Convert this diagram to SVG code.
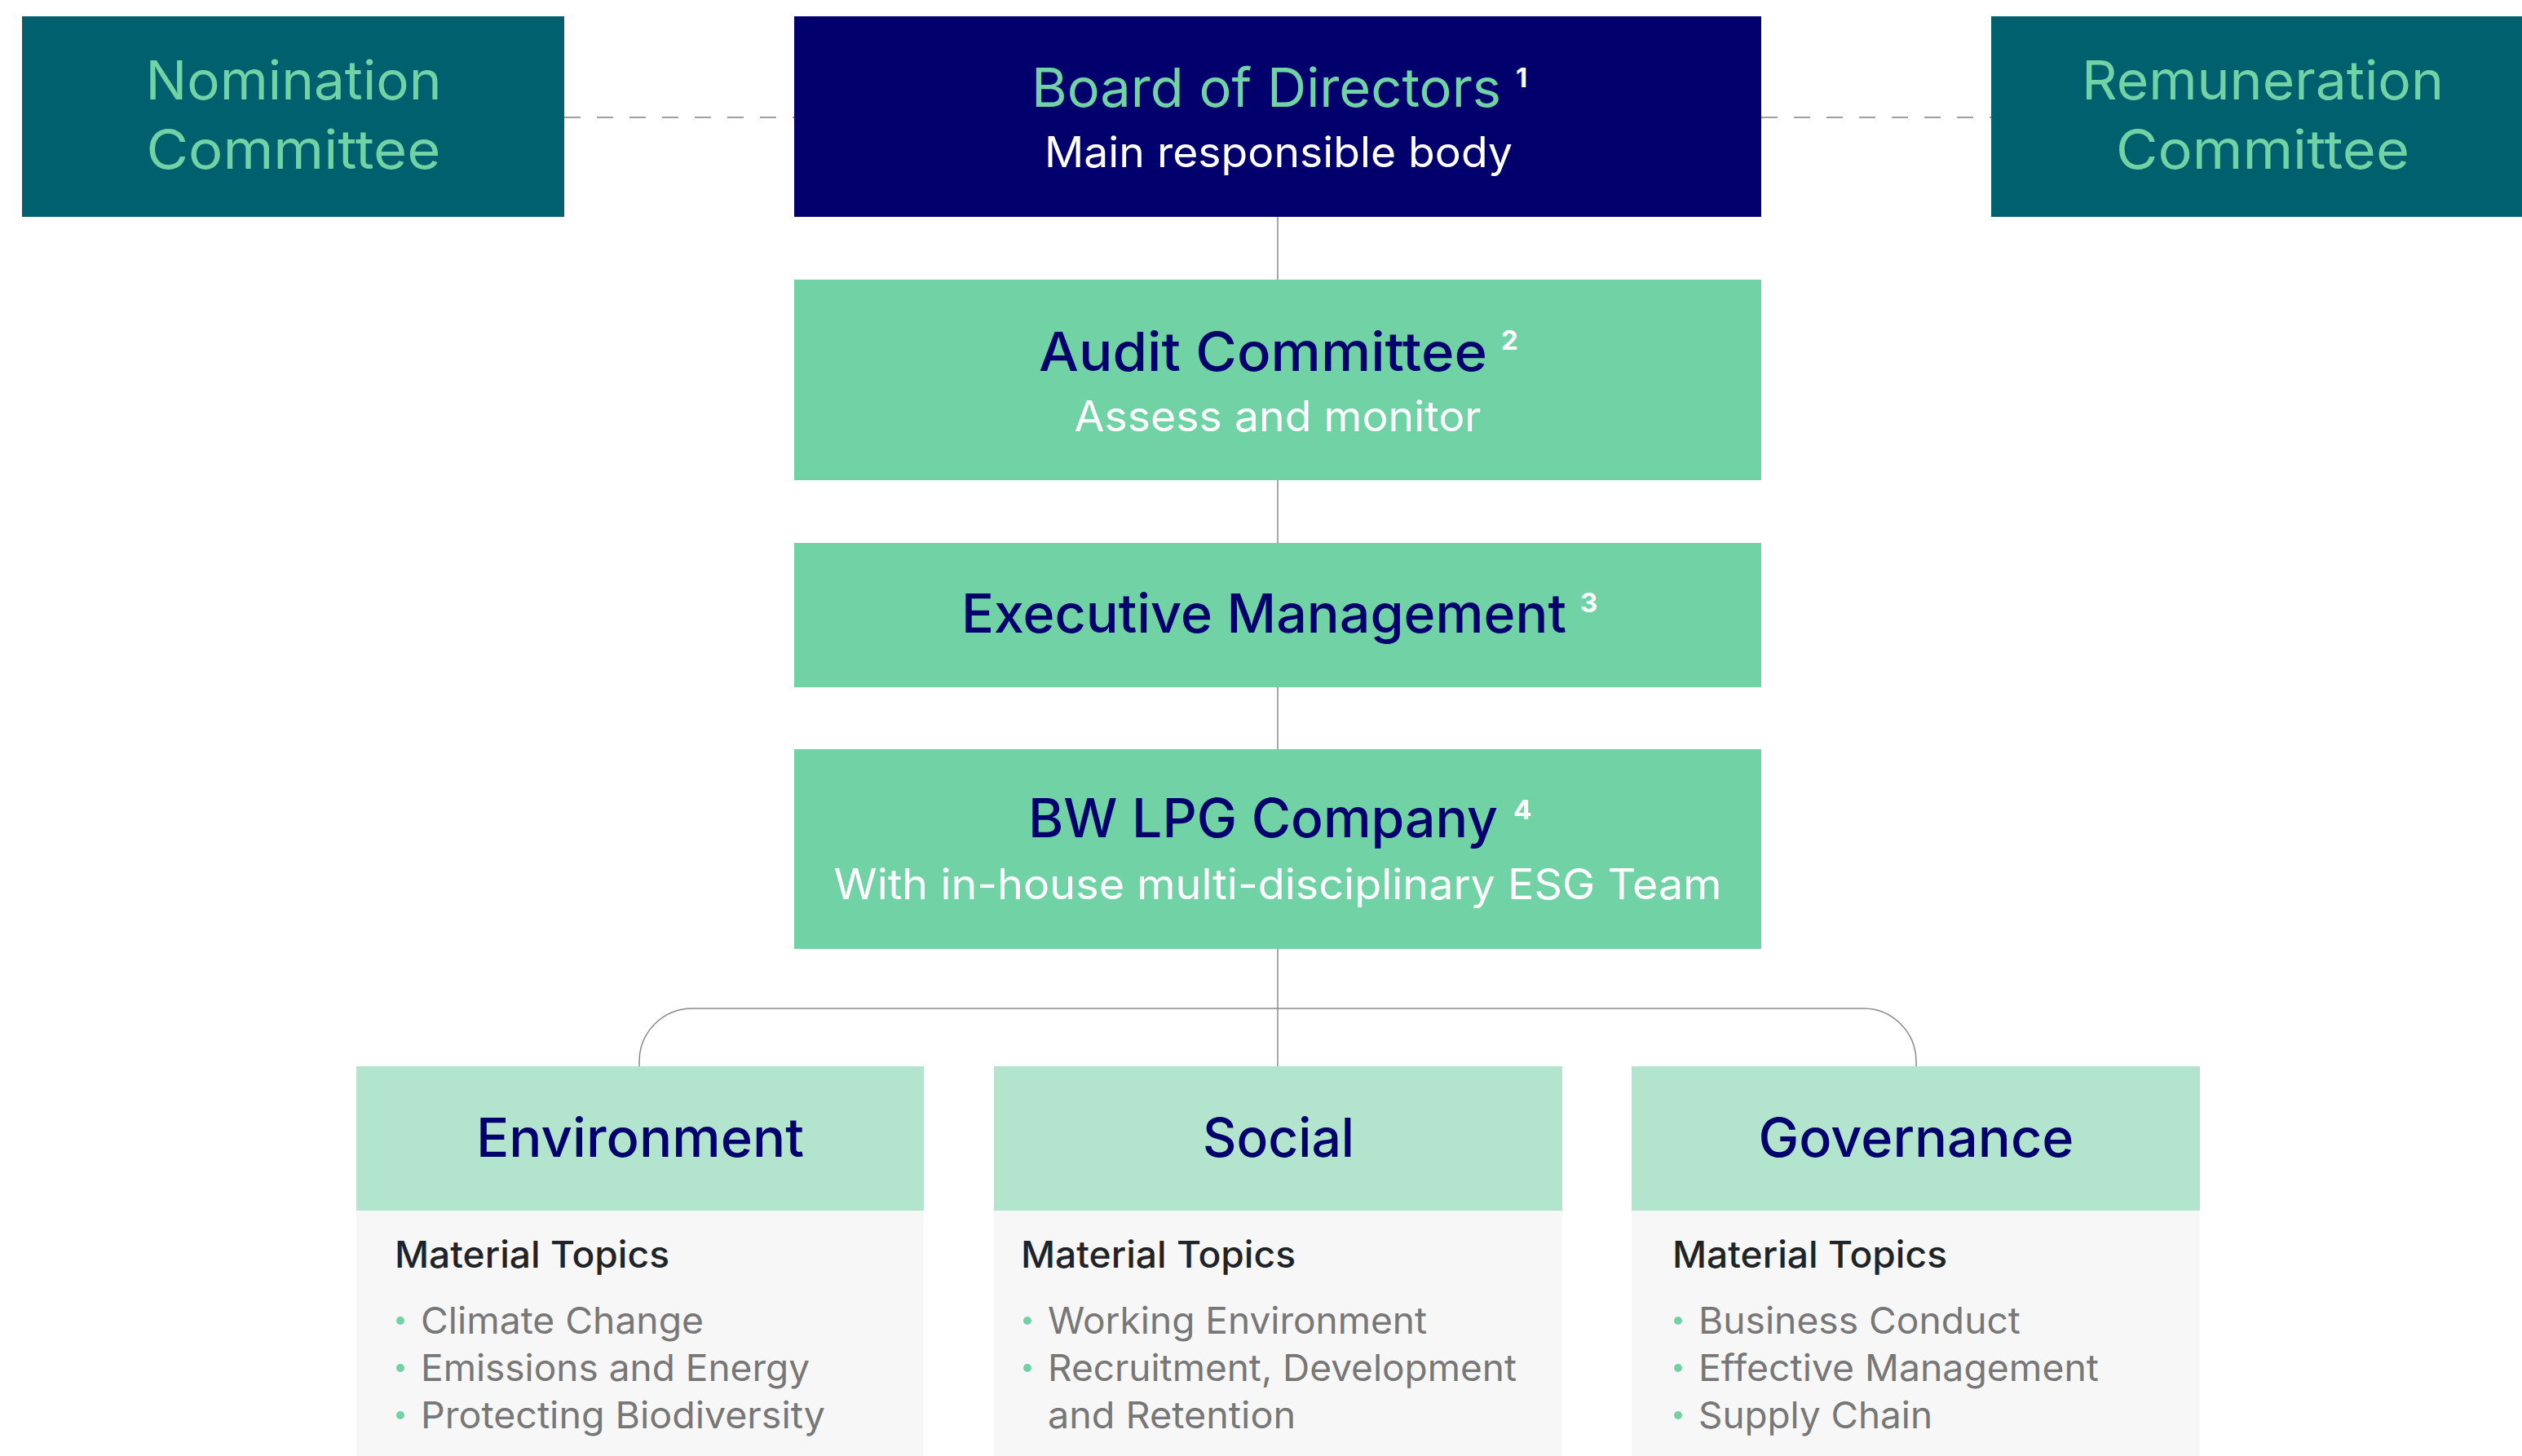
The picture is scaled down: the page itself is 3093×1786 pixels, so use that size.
<svg xmlns="http://www.w3.org/2000/svg" width="3093" height="1786" viewBox="0 0 3093 1786">
<style>
text{font-family:Inter,Roboto,"Liberation Sans",sans-serif;}
.side{fill:#00606E;}
.board{fill:#02006C;}
.mid{fill:#71D3A5;}
.head{fill:#B3E4CD;}
.panel{fill:#F7F7F7;}
.gt{fill:#71D3A5;font-size:66px;text-anchor:middle;}
.nt{fill:#02006C;font-size:66px;font-weight:500;text-anchor:middle;}
.wt{fill:#FFFFFF;font-size:52px;text-anchor:middle;}
.sup{fill:#FFFFFF;font-size:33px;font-weight:700;}
.mt{fill:#1F2428;font-size:45px;font-weight:500;}
.it{fill:#777777;font-size:45px;}
.dot{fill:#71D3A5;}
.conn{fill:none;stroke:#8A8A8A;stroke-width:1.5;}
.dash{fill:none;stroke:#A0A0A0;stroke-width:2;stroke-dasharray:20 20;}
</style>
<rect width="3093" height="1786" fill="#FFFFFF"/>
<g id="connectors">
<line class="dash" x1="692" y1="144" x2="974" y2="144"/>
<line class="dash" x1="2160" y1="144" x2="2442" y2="144"/>
<line class="conn" x1="1567" y1="266" x2="1567" y2="343"/>
<line class="conn" x1="1567" y1="589" x2="1567" y2="666"/>
<line class="conn" x1="1567" y1="843" x2="1567" y2="919"/>
<line class="conn" x1="1567" y1="1164" x2="1567" y2="1308"/>
<path class="conn" d="M 784 1308 V 1302 A 65 65 0 0 1 849 1237 H 2285 A 65 65 0 0 1 2350 1302 V 1308"/>
</g>
<g id="nomination">
<rect class="side" x="27" y="20" width="665" height="246"/>
<text class="gt" x="360" y="122" textLength="363" lengthAdjust="spacingAndGlyphs">Nomination</text>
<text class="gt" x="360" y="207" textLength="361" lengthAdjust="spacingAndGlyphs">Committee</text>
</g>
<g id="board">
<rect class="board" x="974" y="20" width="1186" height="246"/>
<text class="gt" x="1553" y="131" textLength="576" lengthAdjust="spacingAndGlyphs">Board of Directors</text>
<text class="sup" x="1859" y="107">1</text>
<text class="wt" x="1568" y="205" textLength="574" lengthAdjust="spacingAndGlyphs">Main responsible body</text>
</g>
<g id="remuneration">
<rect class="side" x="2442" y="20" width="651" height="246"/>
<text class="gt" x="2775" y="122" textLength="444" lengthAdjust="spacingAndGlyphs">Remuneration</text>
<text class="gt" x="2775" y="207" textLength="360" lengthAdjust="spacingAndGlyphs">Committee</text>
</g>
<g id="audit">
<rect class="mid" x="974" y="343" width="1186" height="246"/>
<text class="nt" x="1549" y="455" textLength="550" lengthAdjust="spacingAndGlyphs">Audit Committee</text>
<text class="sup" x="1841" y="429">2</text>
<text class="wt" x="1567" y="529" textLength="499" lengthAdjust="spacingAndGlyphs">Assess and monitor</text>
</g>
<g id="executive">
<rect class="mid" x="974" y="666" width="1186" height="177"/>
<text class="nt" x="1550" y="776" textLength="742" lengthAdjust="spacingAndGlyphs">Executive Management</text>
<text class="sup" x="1938" y="751">3</text>
</g>
<g id="company">
<rect class="mid" x="974" y="919" width="1186" height="245"/>
<text class="nt" x="1549" y="1027" textLength="576" lengthAdjust="spacingAndGlyphs">BW LPG Company</text>
<text class="sup" x="1856" y="1005">4</text>
<text class="wt" x="1567" y="1103" textLength="1089" lengthAdjust="spacingAndGlyphs">With in-house multi-disciplinary ESG Team</text>
</g>
<g id="environment">
<rect class="head" x="437" y="1308" width="696" height="177"/>
<rect class="panel" x="437" y="1485" width="696" height="301"/>
<text class="nt" x="785" y="1419" textLength="402" lengthAdjust="spacingAndGlyphs">Environment</text>
<text class="mt" x="484" y="1555" textLength="337" lengthAdjust="spacingAndGlyphs">Material Topics</text>
<circle class="dot" cx="491" cy="1620" r="5"/>
<text class="it" x="516" y="1636" textLength="347" lengthAdjust="spacingAndGlyphs">Climate Change</text>
<circle class="dot" cx="491" cy="1678" r="5"/>
<text class="it" x="516" y="1694" textLength="477" lengthAdjust="spacingAndGlyphs">Emissions and Energy</text>
<circle class="dot" cx="491" cy="1736" r="5"/>
<text class="it" x="516" y="1752" textLength="496" lengthAdjust="spacingAndGlyphs">Protecting Biodiversity</text>
</g>
<g id="social">
<rect class="head" x="1219" y="1308" width="697" height="177"/>
<rect class="panel" x="1219" y="1485" width="697" height="301"/>
<text class="nt" x="1568" y="1419" textLength="186" lengthAdjust="spacingAndGlyphs">Social</text>
<text class="mt" x="1252" y="1555" textLength="337" lengthAdjust="spacingAndGlyphs">Material Topics</text>
<circle class="dot" cx="1260" cy="1620" r="5"/>
<text class="it" x="1285" y="1636" textLength="465" lengthAdjust="spacingAndGlyphs">Working Environment</text>
<circle class="dot" cx="1260" cy="1678" r="5"/>
<text class="it" x="1285" y="1694" textLength="575" lengthAdjust="spacingAndGlyphs">Recruitment, Development</text>
<text class="it" x="1285" y="1752" textLength="304" lengthAdjust="spacingAndGlyphs">and Retention</text>
</g>
<g id="governance">
<rect class="head" x="2001" y="1308" width="697" height="177"/>
<rect class="panel" x="2001" y="1485" width="697" height="301"/>
<text class="nt" x="2350" y="1419" textLength="387" lengthAdjust="spacingAndGlyphs">Governance</text>
<text class="mt" x="2051" y="1555" textLength="337" lengthAdjust="spacingAndGlyphs">Material Topics</text>
<circle class="dot" cx="2058" cy="1620" r="5"/>
<text class="it" x="2083" y="1636" textLength="395" lengthAdjust="spacingAndGlyphs">Business Conduct</text>
<circle class="dot" cx="2058" cy="1678" r="5"/>
<text class="it" x="2083" y="1694" textLength="491" lengthAdjust="spacingAndGlyphs">Effective Management</text>
<circle class="dot" cx="2058" cy="1736" r="5"/>
<text class="it" x="2083" y="1752" textLength="287" lengthAdjust="spacingAndGlyphs">Supply Chain</text>
</g>
</svg>
